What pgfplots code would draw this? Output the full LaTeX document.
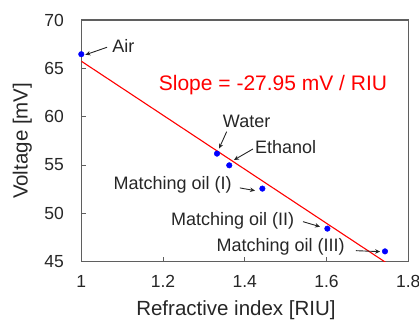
\documentclass[border=0pt]{standalone}
\usepackage{fontspec}
\setmainfont{Liberation Sans}
\usepackage{pgfplots}
\pgfplotsset{compat=1.18}
\usetikzlibrary{arrows.meta}
\definecolor{axgray}{RGB}{95,95,95}
\begin{document}
\begin{tikzpicture}[x=1pt,y=1pt]
\path[use as bounding box] (-81.3pt,-58.3pt) rectangle (337.7pt,261.7pt);
\begin{axis}[
  at={(0,0)}, anchor=south west,
  scale only axis, width=327pt, height=241.7pt,
  xmin=1, xmax=1.8, ymin=45, ymax=70,
  xtick={1,1.2,1.4,1.6,1.8}, ytick={45,50,55,60,65,70},
  xticklabels={1,1.2,1.4,1.6,1.8},
  yticklabels={45,50,55,60,65,70},
  tick align=inside, major tick length=5pt,
  xtick pos=bottom, ytick pos=left,
  axis line style={axgray, line width=1.3pt},
  every tick/.style={axgray, line width=1pt},
  tick label style={font=\fontsize{17.5}{20}\selectfont, text=black!85},
  xticklabel style={yshift=-10pt},
  yticklabel style={xshift=-14pt},
  xlabel={Refractive index [RIU]},
  ylabel={Voltage [mV]},
  label style={font=\fontsize{20.5}{24}\selectfont, text=black!85},
  x label style={at={(axis description cs:0.473,-0.2)}, anchor=center},
  y label style={at={(axis description cs:-0.18,0.5)}, anchor=center},
  clip=true,
]
\addplot[red, line width=1.1pt] coordinates {(1,65.74) (1.8,43.38)};
\addplot[only marks, mark=*, mark size=2.8pt, blue, mark options={draw=blue, fill=blue}] coordinates {
  (1.000,66.46) (1.332,56.18) (1.362,54.97) (1.443,52.56) (1.602,48.42) (1.743,46.07)};
\node[font=\fontsize{21}{24}\selectfont, text=red] at (axis cs:1.469,63.32) {Slope = -27.95 mV / RIU};
\begin{scope}[font=\fontsize{18}{21}\selectfont, text=black!85]
\node at (axis cs:1.103,67.36) {Air};
\node at (axis cs:1.4045,59.52) {Water};
\node at (axis cs:1.500,56.90) {Ethanol};
\node at (axis cs:1.2235,52.94) {Matching oil (I)};
\node at (axis cs:1.370,49.24) {Matching oil (II)};
\node at (axis cs:1.4876,46.56) {Matching oil (III)};
\end{scope}
\begin{scope}[black!85, line width=0.9pt, -{Stealth[length=5pt,width=4.5pt]}]
\draw (axis cs:1.063,67.18) -- (axis cs:1.010,66.40);
\draw (axis cs:1.3557,58.45) -- (axis cs:1.3369,56.70);
\draw (axis cs:1.420,56.66) -- (axis cs:1.3735,55.52);
\draw (axis cs:1.388,52.63) -- (axis cs:1.425,52.35);
\draw (axis cs:1.5424,49.14) -- (axis cs:1.584,48.62);
\draw (axis cs:1.672,46.14) -- (axis cs:1.731,46.04);
\end{scope}
\end{axis}
\end{tikzpicture}
\end{document}
